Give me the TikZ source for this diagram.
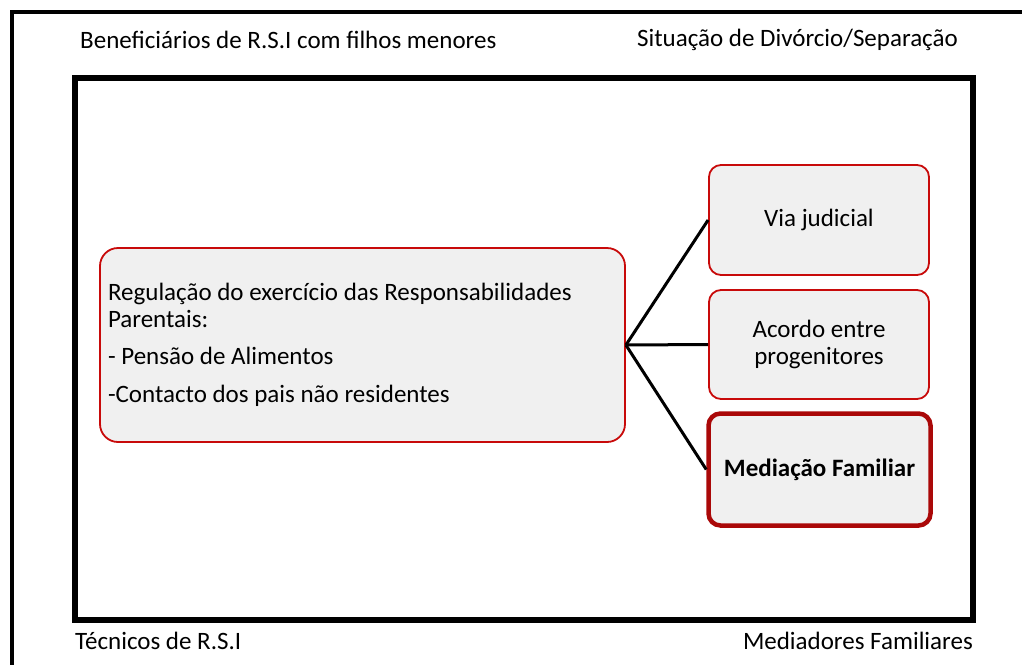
\documentclass[tikz,border=0pt]{standalone}
\usepackage{fontspec}
\setmainfont{Carlito}
\definecolor{boxred}{RGB}{200,10,10}
\definecolor{boxfill}{RGB}{240,240,240}
\begin{document}
\begin{tikzpicture}[x=1pt,y=-1pt,
  frame/.style={line width=4.5pt,line join=miter},
  lbl/.style={font=\fontsize{25}{29}\selectfont,inner sep=0pt},
  rbox/.style={draw=boxred,line width=1.8pt,fill=boxfill,rounded corners=12pt,minimum width=220pt,align=center,font=\fontsize{25}{27}\selectfont},
  conn/.style={line width=3pt,black}]
\useasboundingbox (0,0) rectangle (1022,664);
% outer frame
\draw[frame] (12,670) -- (12,12) -- (1030,12);
% inner frame
\draw[line width=5.5pt] (75,78) rectangle (973,620);
% labels
\node[lbl,anchor=west] (t1) at (80,40) {Beneficiários de R.S.I com filhos menores};
\node[lbl,anchor=east] (t2) at (958,40) {Situação de Divórcio/Separação};
\node[lbl,anchor=west] (t3) at (75,641) {Técnicos de R.S.I};
\node[lbl,anchor=east] (t4) at (973,641) {Mediadores Familiares};
% main box
\node[draw=boxred,line width=1.8pt,fill=boxfill,rounded corners=18pt,minimum width=525pt,minimum height=194pt,text width=509pt,align=flush left,inner xsep=8pt,font=\fontsize{25}{27}\selectfont] (main) at (362.5,345)
{Regulação do exercício das Responsabilidades\\ Parentais:\\[10pt] - Pensão de Alimentos\\[11pt] -Contacto dos pais não residentes};
% right boxes
\node[rbox,minimum height=110pt] (b1) at (819,220) {Via judicial};
\node[rbox,minimum height=109pt] (b2) at (819,344.5) {Acordo entre\\ progenitores};
\node[rbox,draw=boxred!85!black,line width=4.5pt,minimum width=222pt,minimum height=112pt,font=\fontsize{25}{27}\selectfont\bfseries] (b3) at (819.5,469.5) {Mediação Familiar};
% connectors
\draw[conn] (main.east) -- (b1.west);
\draw[conn] (main.east) -- (b2.west);
\draw[conn] (main.east) -- (b3.west);
\end{tikzpicture}
\end{document}
